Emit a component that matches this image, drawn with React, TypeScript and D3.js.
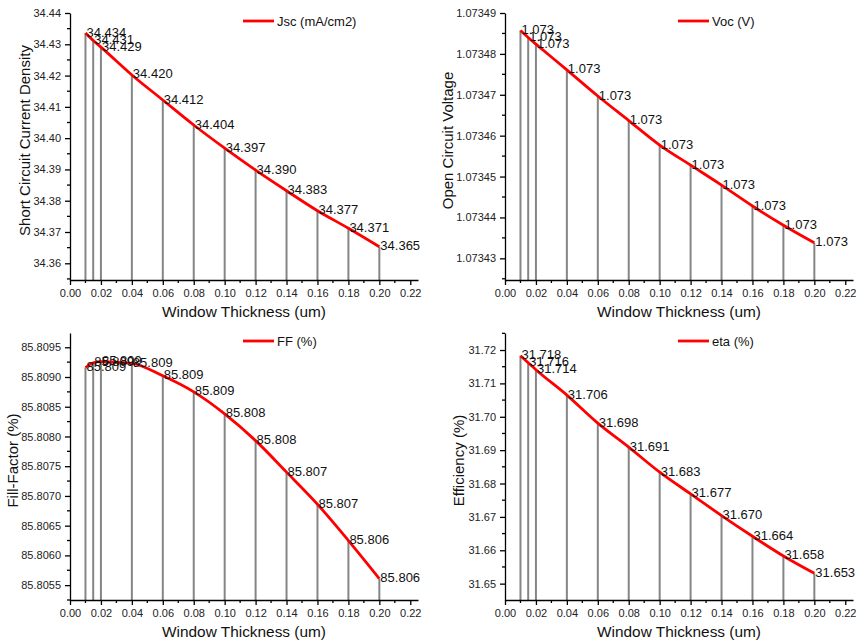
import React, { useEffect, useRef } from "react";
import * as d3 from "d3";

// window thickness (um) of each simulated point
const thickness = [0.01, 0.015, 0.02, 0.04, 0.06, 0.08, 0.1, 0.12, 0.14, 0.16, 0.18, 0.2];

const jsc = [34.4336, 34.4312, 34.4291, 34.4202, 34.4122, 34.4042, 34.3968, 34.3898, 34.3832, 34.3768, 34.3712, 34.3653];
const voc = [1.0734857, 1.073484, 1.0734824, 1.0734761, 1.0734697, 1.0734637, 1.0734577, 1.0734528, 1.0734479, 1.0734428, 1.0734381, 1.0734338];
const ff = [85.80916, 85.80924, 85.80926, 85.80923, 85.80902, 85.80875, 85.80838, 85.80793, 85.8074, 85.80686, 85.80625, 85.80561];
const eta = [31.7183, 31.7162, 31.7141, 31.7065, 31.6981, 31.6909, 31.6834, 31.6769, 31.6704, 31.6642, 31.6583, 31.6531];

const xTicks = [0, 0.02, 0.04, 0.06, 0.08, 0.1, 0.12, 0.14, 0.16, 0.18, 0.2, 0.22];
const jscTicks = [34.36, 34.37, 34.38, 34.39, 34.4, 34.41, 34.42, 34.43, 34.44];
const vocTicks = [1.07343, 1.07344, 1.07345, 1.07346, 1.07347, 1.07348, 1.07349];
const ffTicks = [85.8055, 85.806, 85.8065, 85.807, 85.8075, 85.808, 85.8085, 85.809, 85.8095];
const etaTicks = [31.65, 31.66, 31.67, 31.68, 31.69, 31.7, 31.71, 31.72];

const W = 348;
const H = 267;
const FONT = "'Liberation Sans', Arial, sans-serif";

const panels = [
  { id: "jsc", left: 70, top: 13, values: jsc, domain: [34.35466, 34.44], ticks: jscTicks, fmt: ".2f",
    yTitle: "Short Circuit Current Density", legend: "Jsc (mA/cm2)", titleX: -40 },
  { id: "voc", left: 505, top: 13, values: voc, domain: [1.0734247, 1.07349], ticks: vocTicks, fmt: ".5f",
    yTitle: "Open Circuit Voltage", legend: "Voc (V)", titleX: -52 },
  { id: "ff", left: 70, top: 333, values: ff, domain: [85.80525, 85.80974], ticks: ffTicks, fmt: ".4f",
    yTitle: "Fill-Factor (%)", legend: "FF (%)", titleX: -52 },
  { id: "eta", left: 505, top: 333, values: eta, domain: [31.6451, 31.7251], ticks: etaTicks, fmt: ".2f",
    yTitle: "Efficiency (%)", legend: "eta (%)", titleX: -41 },
];

function minorOf(ticks, domain) {
  const step = ticks[1] - ticks[0];
  const out = [];
  for (let i = -1; i < ticks.length; i++) {
    const m = ticks[0] + step * (i + 0.5);
    if (m >= domain[0] && m <= domain[1]) out.push(m);
  }
  return out;
}

function drawPanel(g, p) {
  const x = d3.scaleLinear().domain([0, 0.225]).range([0, W]);
  const y = d3.scaleLinear().domain(p.domain).range([H, 0]);
  const pts = thickness.map((t, i) => [t, p.values[i]]);

  // drop lines
  g.append("g").selectAll("line").data(pts).join("line")
    .attr("x1", d => x(d[0])).attr("x2", d => x(d[0]))
    .attr("y1", d => y(d[1])).attr("y2", H)
    .attr("stroke", "#858585").attr("stroke-width", 2);

  const line = d3.line().x(d => x(d[0])).y(d => y(d[1])).curve(d3.curveMonotoneX);
  g.append("path").attr("d", line(pts)).attr("fill", "none")
    .attr("stroke", "#ff0000").attr("stroke-width", 2.8);

  // x axis
  const xa = g.append("g").attr("transform", `translate(0,${H})`)
    .call(d3.axisBottom(x).tickValues(xTicks).tickSize(5).tickSizeOuter(0).tickPadding(4).tickFormat(d3.format(".2f")));
  xa.append("g").selectAll("line").data(minorOf(xTicks, [0, 0.225])).join("line")
    .attr("x1", d => x(d)).attr("x2", d => x(d)).attr("y1", 0).attr("y2", 3).attr("stroke", "#000");

  // y axis
  const ya = g.append("g")
    .call(d3.axisLeft(y).tickValues(p.ticks).tickSize(5).tickSizeOuter(0).tickPadding(4).tickFormat(d3.format(p.fmt)));
  ya.append("g").selectAll("line").data(minorOf(p.ticks, p.domain)).join("line")
    .attr("y1", d => y(d)).attr("y2", d => y(d)).attr("x1", 0).attr("x2", -3).attr("stroke", "#000");

  [xa, ya].forEach(a => {
    a.attr("font-family", FONT).attr("font-size", 11);
    a.selectAll("path,line").attr("stroke", "#000").attr("stroke-width", 1.3);
    a.selectAll("text").attr("fill", "#222");
  });

  // value labels
  g.append("g").selectAll("text").data(pts).join("text")
    .attr("x", d => x(d[0]) + 1).attr("y", d => y(d[1]) - 1).attr("dy", "0.35em")
    .attr("font-family", FONT).attr("font-size", 13).attr("fill", "#111")
    .text(d => d3.format(".3f")(d[1]));

  // titles
  g.append("text").attr("x", W / 2).attr("y", H + 37).attr("text-anchor", "middle")
    .attr("font-family", FONT).attr("font-size", 15.4).attr("fill", "#111")
    .text("Window Thickness (um)");
  g.append("text").attr("transform", `translate(${p.titleX},${H / 2 - 6}) rotate(-90)`)
    .attr("text-anchor", "middle")
    .attr("font-family", FONT).attr("font-size", 15).attr("fill", "#111")
    .text(p.yTitle);

  // legend
  g.append("line").attr("x1", 173).attr("x2", 204).attr("y1", 8).attr("y2", 8)
    .attr("stroke", "#ff0000").attr("stroke-width", 2.8);
  g.append("text").attr("x", 207).attr("y", 8).attr("dy", "0.35em")
    .attr("font-family", FONT).attr("font-size", 13).attr("fill", "#111")
    .text(p.legend);
}

export default function App() {
  const ref = useRef(null);

  useEffect(() => {
    const svg = d3.select(ref.current);
    svg.selectAll("*").remove();
    panels.forEach(p => {
      const g = svg.append("g").attr("transform", `translate(${p.left},${p.top})`);
      drawPanel(g, p);
    });
  }, []);

  return (
    <svg ref={ref} width={856} height={644}
      style={{ position: "absolute", left: 0, top: 0, background: "#fff" }} />
  );
}
